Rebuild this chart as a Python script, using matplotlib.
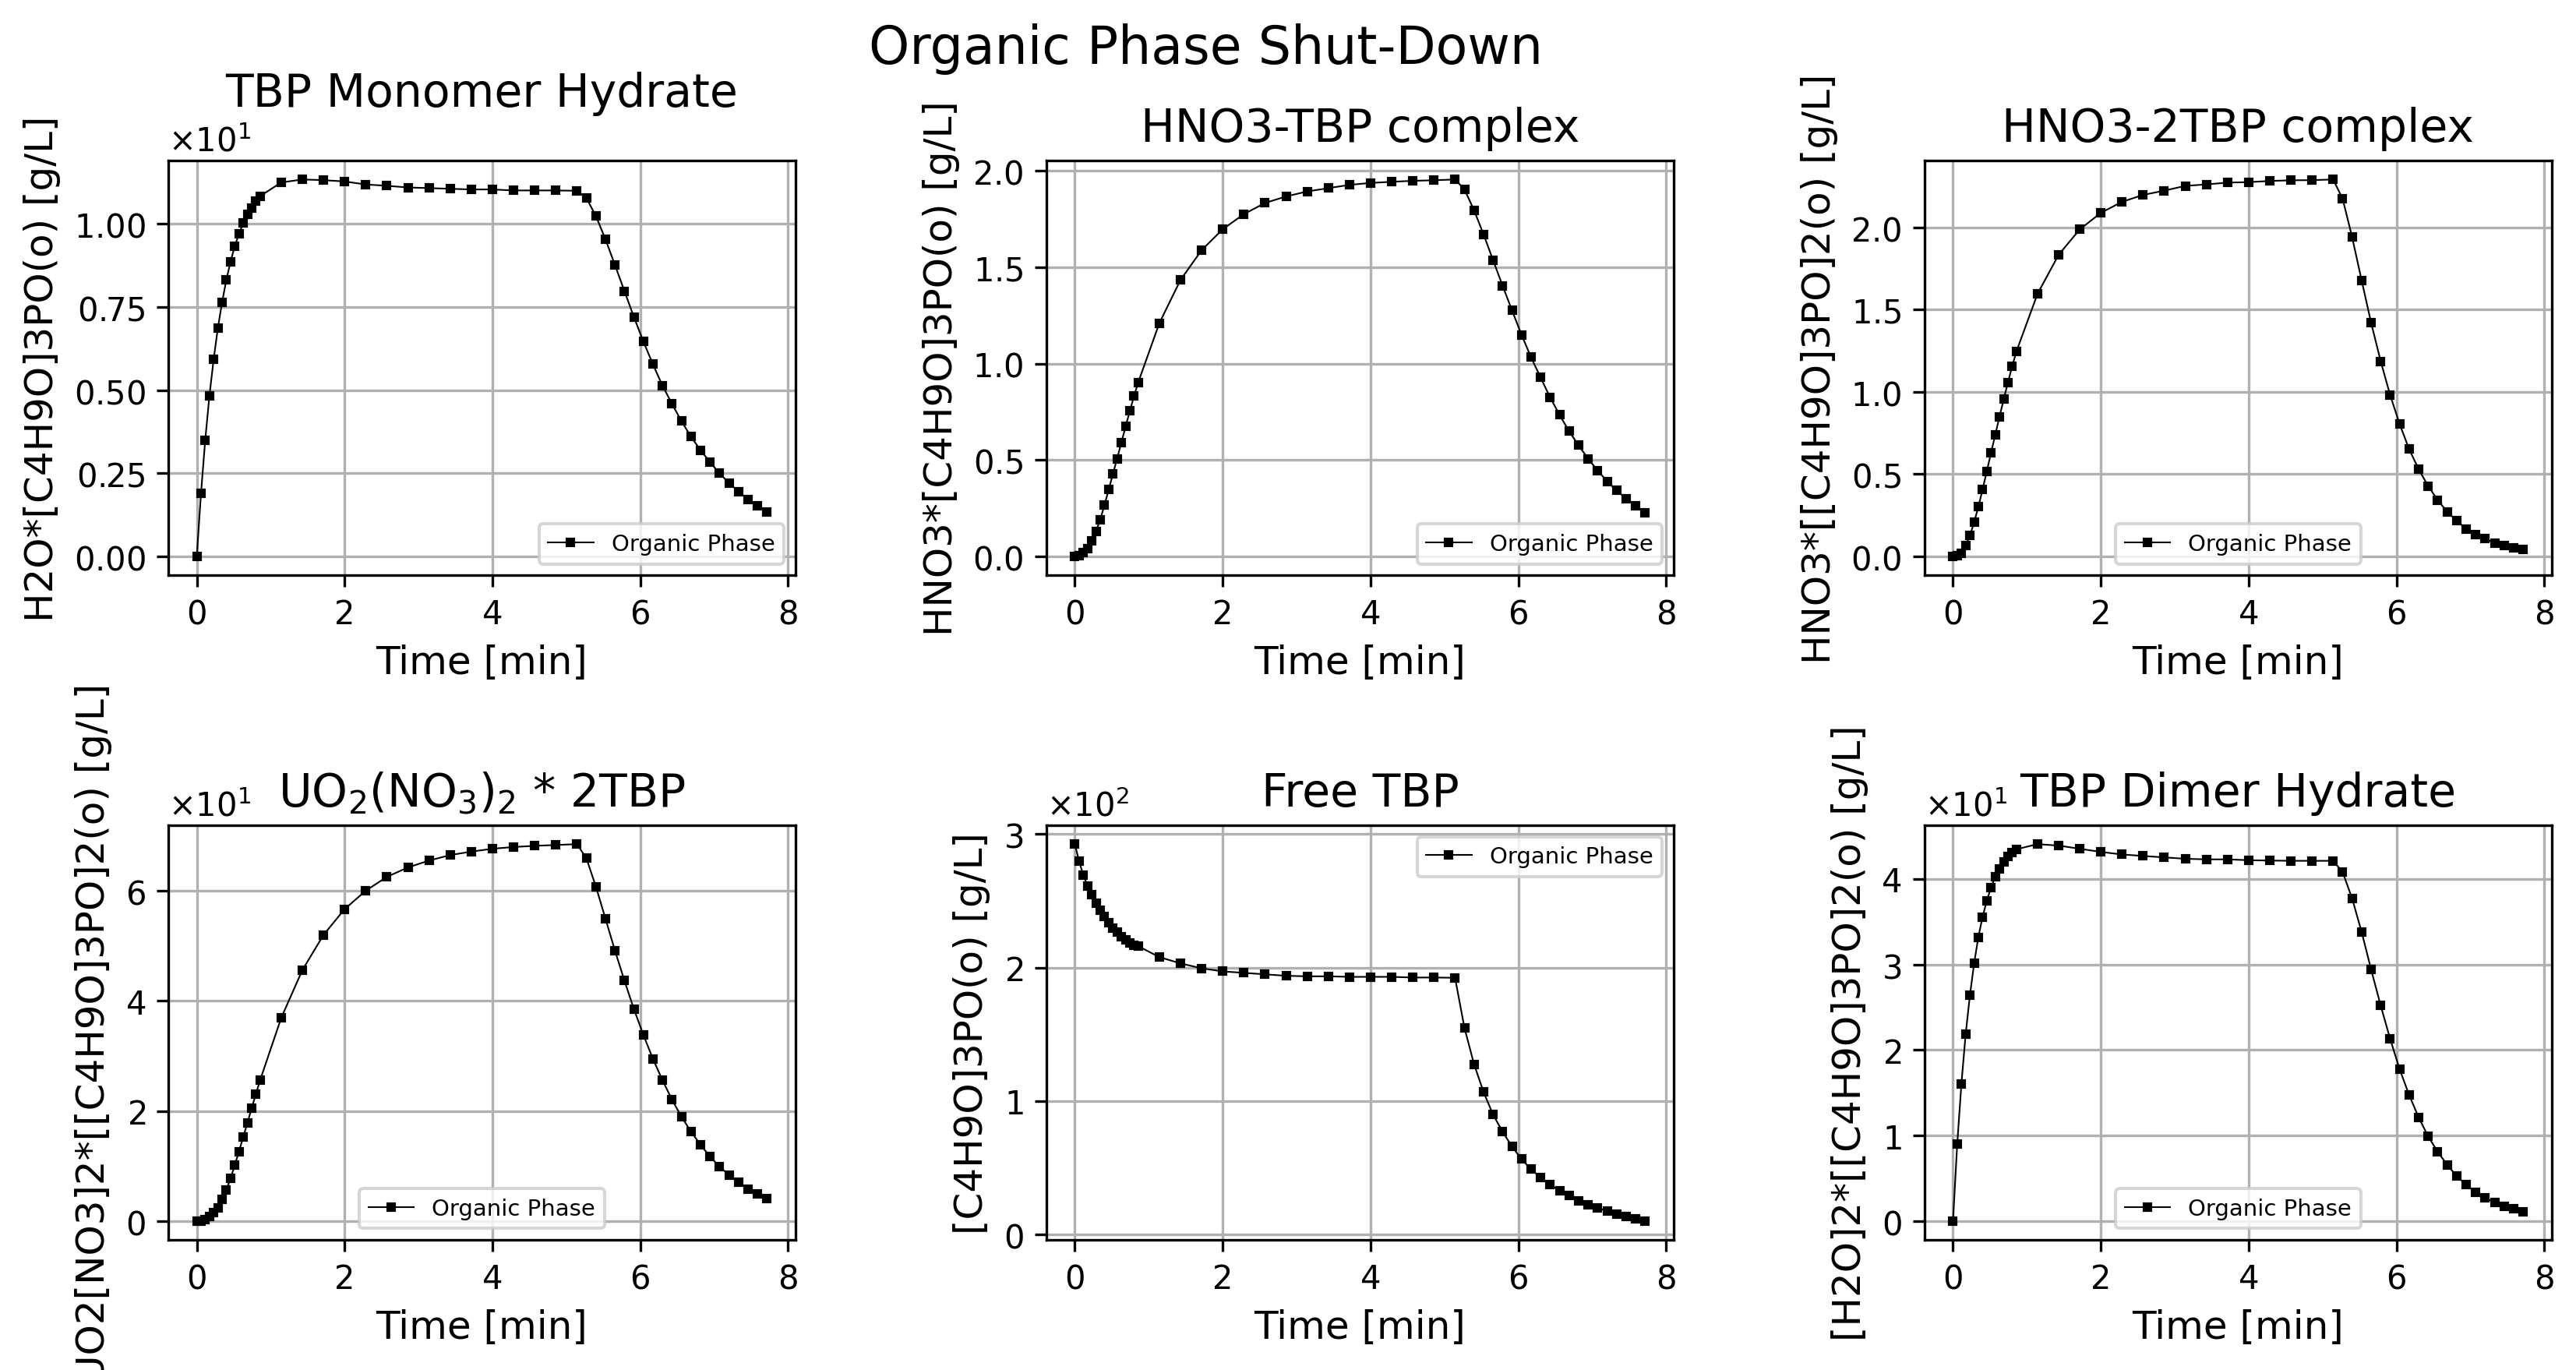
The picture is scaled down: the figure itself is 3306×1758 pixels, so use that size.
import matplotlib
matplotlib.use("Agg")
import matplotlib.pyplot as plt

# Time grid [min]
time_min = [0.0, 0.057, 0.114, 0.171, 0.229, 0.286, 0.343, 0.4, 0.457, 0.514,
            0.571, 0.629, 0.686, 0.743, 0.8, 0.857,
            1.143, 1.429, 1.714, 2.0, 2.286, 2.571, 2.857, 3.143, 3.429, 3.714,
            4.0, 4.286, 4.571, 4.857, 5.143,
            5.271, 5.4, 5.529, 5.657, 5.786, 5.914, 6.043, 6.171, 6.3, 6.429,
            6.557, 6.686, 6.814, 6.943, 7.071, 7.2, 7.329, 7.457, 7.586, 7.714]

# Concentrations [g/L]
tbp_monomer = [0.0, 1.89, 3.49, 4.83, 5.94, 6.88, 7.65, 8.32, 8.87, 9.33,
               9.71, 10.03, 10.29, 10.49, 10.68, 10.84,
               11.25, 11.34, 11.32, 11.28, 11.19, 11.15, 11.10, 11.08, 11.06, 11.04,
               11.04, 11.01, 11.01, 11.01, 11.00,
               10.78, 10.24, 9.54, 8.77, 7.98, 7.20, 6.46, 5.78, 5.14, 4.59,
               4.07, 3.60, 3.20, 2.84, 2.50, 2.21, 1.95, 1.71, 1.52, 1.34]

hno3_tbp = [0.0, 0.004, 0.019, 0.039, 0.082, 0.131, 0.191, 0.266, 0.346, 0.427,
            0.507, 0.591, 0.673, 0.754, 0.831, 0.903,
            1.210, 1.434, 1.588, 1.697, 1.775, 1.833, 1.867, 1.893, 1.910, 1.927,
            1.937, 1.943, 1.948, 1.951, 1.955,
            1.903, 1.796, 1.670, 1.537, 1.404, 1.276, 1.149, 1.033, 0.928, 0.825,
            0.734, 0.649, 0.576, 0.507, 0.446, 0.390, 0.342, 0.299, 0.263, 0.228]

hno3_2tbp = [0.0, 0.003, 0.021, 0.066, 0.126, 0.208, 0.301, 0.406, 0.517, 0.629,
             0.738, 0.850, 0.955, 1.059, 1.154, 1.245,
             1.596, 1.834, 1.988, 2.089, 2.156, 2.198, 2.224, 2.253, 2.262, 2.273,
             2.276, 2.283, 2.287, 2.288, 2.292,
             2.175, 1.941, 1.677, 1.420, 1.187, 0.981, 0.804, 0.652, 0.530, 0.427,
             0.343, 0.271, 0.217, 0.168, 0.135, 0.107, 0.082, 0.065, 0.052, 0.042]

uo2_2tbp = [0.0, 0.05, 0.26, 0.78, 1.51, 2.45, 3.92, 5.69, 7.73, 10.18,
            12.64, 15.30, 17.86, 20.52, 23.08, 25.59,
            36.92, 45.59, 51.96, 56.66, 60.00, 62.51, 64.23, 65.48, 66.48, 67.10,
            67.62, 67.94, 68.15, 68.30, 68.46,
            65.90, 60.73, 54.93, 49.14, 43.66, 38.49, 33.79, 29.45, 25.59, 22.04,
            18.96, 16.24, 13.89, 11.70, 9.92, 8.36, 7.05, 5.85, 4.96, 4.02]

free_tbp = [292.5, 279.6, 269.4, 261.3, 254.4, 248.3, 242.7, 238.0, 233.7, 229.8,
            226.4, 223.3, 220.8, 218.6, 216.9, 216.0,
            207.8, 203.1, 199.4, 197.1, 196.0, 194.9, 193.8, 193.4, 193.4, 193.0,
            193.0, 193.0, 192.5, 192.5, 192.3,
            154.6, 127.5, 106.6, 89.8, 76.9, 65.7, 56.4, 48.7, 42.6, 37.3,
            32.7, 28.9, 25.2, 22.4, 19.8, 17.4, 15.2, 13.3, 11.5, 9.9]

tbp_dimer = [0.0, 8.98, 16.05, 21.83, 26.41, 30.14, 33.20, 35.56, 37.44, 38.99,
             40.27, 41.18, 41.95, 42.62, 43.13, 43.47,
             44.07, 43.90, 43.53, 43.16, 42.86, 42.69, 42.52, 42.36, 42.29, 42.29,
             42.19, 42.15, 42.12, 42.12, 42.12,
             40.81, 37.71, 33.78, 29.40, 25.20, 21.30, 17.73, 14.74, 12.11, 9.89,
             8.11, 6.56, 5.28, 4.24, 3.36, 2.69, 2.19, 1.75, 1.41, 1.11]

titles = ["TBP Monomer Hydrate", "HNO3-TBP complex", "HNO3-2TBP complex",
          r"UO$_2$(NO$_3$)$_2$ * 2TBP", "Free TBP", "TBP Dimer Hydrate"]
ylabels = ["H2O*[C4H9O]3PO(o) [g/L]", "HNO3*[C4H9O]3PO(o) [g/L]",
           "HNO3*[[C4H9O]3PO]2(o) [g/L]", "UO2[NO3]2*[[C4H9O]3PO]2(o) [g/L]",
           "[C4H9O]3PO(o) [g/L]", "[H2O]2*[[C4H9O]3PO]2(o) [g/L]"]
series = [tbp_monomer, hno3_tbp, hno3_2tbp, uo2_2tbp, free_tbp, tbp_dimer]
legend_locs = ["lower right", "lower right", "lower center",
               "lower center", "upper right", "lower center"]

fig, axes = plt.subplots(2, 3, figsize=(11.023, 5.863), dpi=300)
fig.subplots_adjust(left=0.0653, right=0.9903, bottom=0.0949, top=0.8823,
                    wspace=0.40, hspace=0.603)

for ax, y, title, ylab, loc in zip(axes.flat, series, titles, ylabels, legend_locs):
    ax.plot(time_min, y, "ks-", lw=0.5, markersize=2, label="Organic Phase")
    ax.set_title(title, fontsize=14)
    ax.set_xlabel("Time [min]", fontsize=12)
    ax.set_ylabel(ylab, fontsize=12)
    ax.ticklabel_format(axis="y", style="sci", scilimits=(0, 0), useMathText=True)
    ax.grid(True)
    ax.legend(loc=loc, fontsize=7)

fig.suptitle("Organic Phase Shut-Down", fontsize=16, x=0.468, y=0.983)
fig.savefig("out.png", dpi=300)
